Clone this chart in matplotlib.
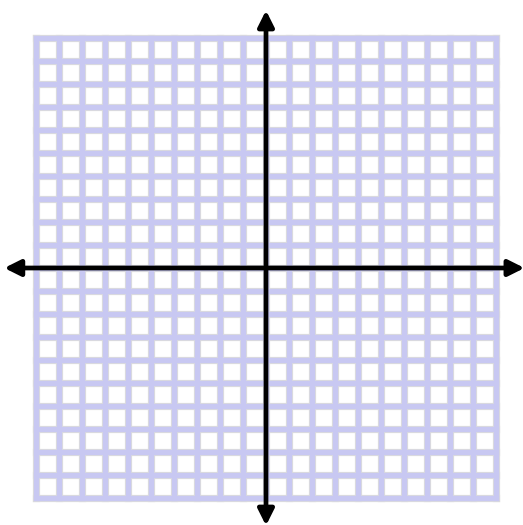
import matplotlib
matplotlib.use("Agg")
import matplotlib.pyplot as plt

# blank coordinate grid, -10..10 on both axes
grid_ticks = list(range(-10, 11))
x_arrow = [-11.38, 11.24]
y_arrow = [-11.2, 11.2]

fig = plt.figure(figsize=(5.23, 5.25), dpi=100)
ax = fig.add_axes([0, 0, 1, 1])
ax.set_xlim(-266 / 23, (523 - 266) / 23)
ax.set_ylim((268 - 525) / 23, 268 / 23)
ax.axis('off')

lo, hi = grid_ticks[0], grid_ticks[-1]

# light gray rim under the blue lines
for t in grid_ticks:
    ax.plot([t, t], [lo, hi], color='#dcdcdc', lw=5.2, solid_capstyle='projecting', zorder=1)
    ax.plot([lo, hi], [t, t], color='#dcdcdc', lw=5.2, solid_capstyle='projecting', zorder=1)
for t in grid_ticks:
    ax.plot([t, t], [lo, hi], color='#c8c8f2', lw=3.8, solid_capstyle='projecting', zorder=2)
    ax.plot([lo, hi], [t, t], color='#c8c8f2', lw=3.8, solid_capstyle='projecting', zorder=2)

arrow = dict(arrowstyle='<|-|>,head_length=0.48,head_width=0.24', lw=3.4,
             color='black', shrinkA=0, shrinkB=0, mutation_scale=20)
ax.annotate('', xy=(x_arrow[1], 0), xytext=(x_arrow[0], 0), arrowprops=arrow,
            annotation_clip=False, zorder=5)
ax.annotate('', xy=(0, y_arrow[1]), xytext=(0, y_arrow[0]), arrowprops=arrow,
            annotation_clip=False, zorder=5)

fig.savefig('out.png', dpi=100)
